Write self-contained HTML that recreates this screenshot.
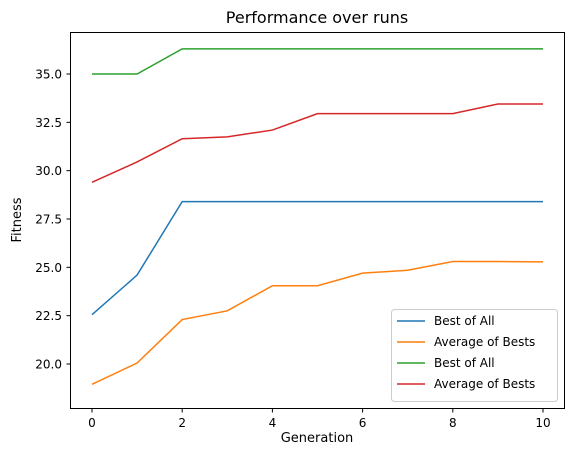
<!DOCTYPE html>
<html><head><meta charset="utf-8"><style>
body{margin:0;background:#fff;}
svg text{font-family:"DejaVu Sans","Liberation Sans",sans-serif;fill:#000;}
</style></head><body>
<svg id="chart" width="579" height="455" xmlns="http://www.w3.org/2000/svg">
<rect width="579" height="455" fill="#fff"/>
<text x="317" y="23" font-size="16" text-anchor="middle">Performance over runs</text>
<g id="plot"></g>
<rect x="70.5" y="32.5" width="494" height="376" fill="none" stroke="#000" stroke-width="1"/>
<text x="317" y="442" font-size="13" text-anchor="middle">Generation</text>
<text x="21" y="220" font-size="13" text-anchor="middle" transform="rotate(-90 21 220)">Fitness</text>
<g id="legend"></g>
</svg>
<script>
const generations=[0,1,2,3,4,5,6,7,8,9,10];
const bestOfAll1=[22.55,24.6,28.4,28.4,28.4,28.4,28.4,28.4,28.4,28.4,28.4];
const avgOfBests1=[18.95,20.05,22.3,22.75,24.05,24.05,24.7,24.85,25.3,25.3,25.28];
const bestOfAll2=[35.0,35.0,36.3,36.3,36.3,36.3,36.3,36.3,36.3,36.3,36.3];
const avgOfBests2=[29.4,30.45,31.65,31.75,32.1,32.95,32.95,32.95,32.95,33.45,33.45];
const xTicks=[0,2,4,6,8,10];
const yTicks=[20.0,22.5,25.0,27.5,30.0,32.5,35.0];
const seriesNames=["Best of All","Average of Bests","Best of All","Average of Bests"];
const colors=["#1f77b4","#ff7f0e","#2ca02c","#d62728"];
const NS="http://www.w3.org/2000/svg";
function xS(v){return 92+v*45.1;}
function yS(v){return 74+(35-v)*(290/15);}
const plot=document.getElementById('plot');
function mk(t,a,p){const e=document.createElementNS(NS,t);for(const k in a)e.setAttribute(k,a[k]);p.appendChild(e);return e;}
xTicks.forEach(t=>{
  const l=mk('line',{x1:xS(t),x2:xS(t),y1:408.5,y2:412.5,stroke:'#000'},plot);
  
  
  const tx=mk('text',{x:xS(t),y:427,'font-size':12,'text-anchor':'middle'},plot);tx.textContent=t;
  
  
});
yTicks.forEach(t=>{
  const l=mk('line',{x1:66.5,x2:70.5,y1:yS(t),y2:yS(t),stroke:'#000'},plot);
  
  
  const tx=mk('text',{x:62,y:yS(t)+4.5,'font-size':12,'text-anchor':'end'},plot);tx.textContent=t.toFixed(1);
  
  
});
[bestOfAll1,avgOfBests1,bestOfAll2,avgOfBests2].forEach((s,i)=>{
  const pl=mk('polyline',{points:s.map((v,j)=>xS(generations[j])+','+yS(v)).join(' '),fill:'none',stroke:colors[i],'stroke-width':1.5},plot);
  
  
});
const lg=document.getElementById('legend');
const box=mk('rect',{x:391.5,y:309.5,width:166,height:92,rx:3,fill:'#fff','fill-opacity':0.8,stroke:'#ccc'},lg);


seriesNames.forEach((n,i)=>{
  const y=321+i*21;
  const l=mk('line',{x1:397,x2:425,y1:y,y2:y,stroke:colors[i],'stroke-width':1.5},lg);
  
  
  const t=mk('text',{x:434,y:y+4,'font-size':12},lg);t.textContent=n;
  
  
});
</script>
</body></html>
